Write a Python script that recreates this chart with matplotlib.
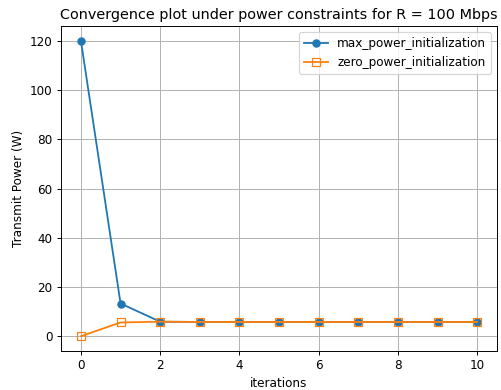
import matplotlib
matplotlib.use('Agg')
import matplotlib.pyplot as plt

iteraciones = list(range(11))
potencia_max = [120.0, 13.3, 5.9, 5.8, 5.8, 5.8, 5.8, 5.8, 5.8, 5.8, 5.8]
potencia_cero = [0.0, 5.6, 5.9, 5.8, 5.8, 5.8, 5.8, 5.8, 5.8, 5.8, 5.8]

DPI = 86.5
fig, ax = plt.subplots(figsize=(501 / DPI, 390 / DPI), dpi=DPI)
fig.subplots_adjust(left=0.122, right=0.992, top=0.933, bottom=0.100)
ax.plot(iteraciones, potencia_max, marker='o', label='max_power_initialization')
ax.plot(iteraciones, potencia_cero, marker='s', markerfacecolor='none',
        label='zero_power_initialization')
ax.set_title('Convergence plot under power constraints for R = 100 Mbps')
ax.set_xlabel('iterations')
ax.set_ylabel('Transmit Power (W)')
ax.grid(True)
ax.legend(loc='upper right')
plt.savefig('out.png', dpi=DPI)
